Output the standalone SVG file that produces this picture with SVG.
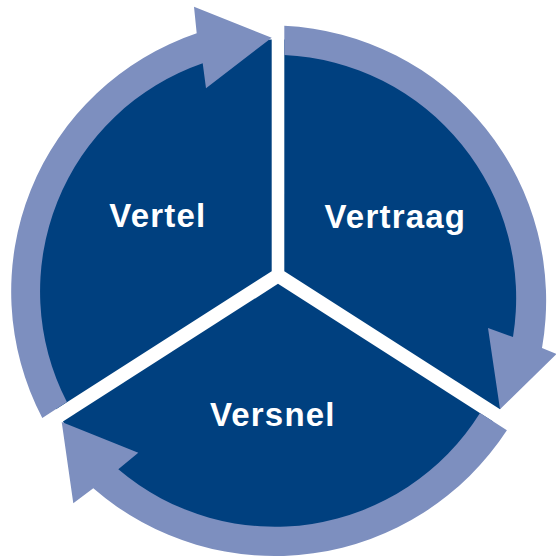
<svg xmlns="http://www.w3.org/2000/svg" width="556" height="559" viewBox="0 0 556 559">
<style>
.sector{fill:#00407f}
.arrow{fill:#7d8fbf}
.label{font-family:"Liberation Sans",Arial,Helvetica,sans-serif;font-weight:700;font-size:33px;fill:#ffffff;text-anchor:middle;letter-spacing:1.2px}
</style>
<rect width="556" height="559" fill="#ffffff"/>
<g id="node-vertraag">
<path class="sector" d="M284.3 271.2 L284.3 39.58 A251.5 251.5 0 0 1 500 409.2 Z"/>
<text class="label" x="395.3" y="228">Vertraag</text>
</g>
<g id="node-versnel">
<path class="sector" d="M278 283.8 L493.1 421.4 A251.5 251.5 0 0 1 62.9 421.4 Z"/>
<text class="label" x="272.8" y="426.2">Versnel</text>
</g>
<g id="node-vertel">
<path class="sector" d="M271.7 271.2 L56 409.2 A251.5 251.5 0 0 1 271.7 39.58 Z"/>
<text class="label" x="157.9" y="227.3">Vertel</text>
</g>
<g id="connectors">
<path id="arrow-vertraag-versnel" class="arrow" d="M284.3 25.74 A275 275 0 0 1 542 348 L556.5 354 L500 409.2 L488 328 L513 337 A243.2 243.2 0 0 0 284.3 54.96 Z"/>
<path id="arrow-versnel-vertel" class="arrow" d="M506.9 430.2 A277 277 0 0 1 93.3 488.3 L73.3 503.3 L61.7 422.1 L138.3 452.7 L118.3 469.3 A241.9 241.9 0 0 0 480 413 Z"/>
<path id="arrow-vertel-vertraag" class="arrow" d="M42.3 417.9 A272.4 272.4 0 0 1 196.7 33.3 L194 6.7 L271.7 37.7 L206 88.3 L202.7 63.3 A241.4 241.4 0 0 0 66.9 402.1 Z"/>
</g>
</svg>
